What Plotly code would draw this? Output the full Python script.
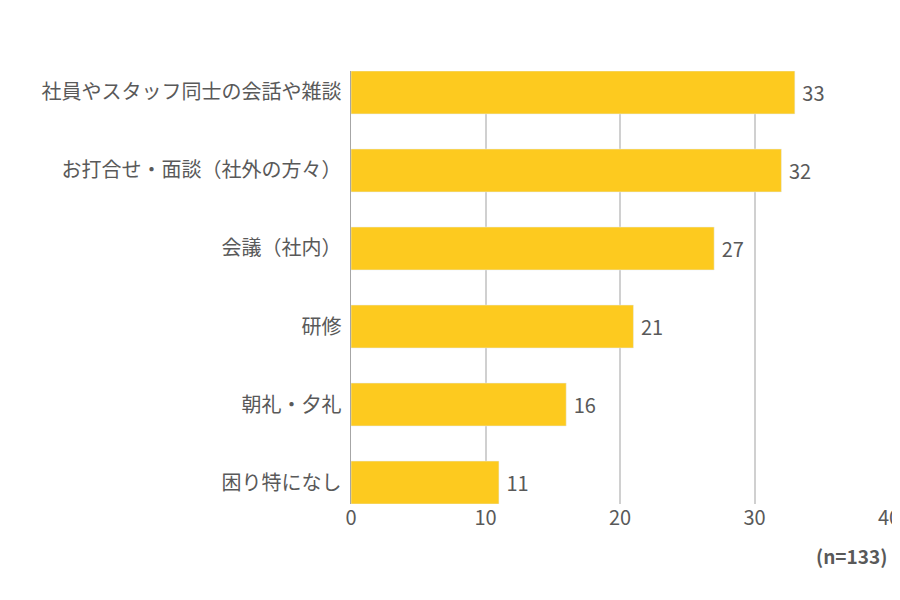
import plotly.graph_objects as go

categories = ["社員やスタッフ同士の会話や雑談", "お打合せ・面談（社外の方々）", "会議（社内）",
              "研修", "朝礼・夕礼", "困り特になし"]
values = [33, 32, 27, 21, 16, 11]
x_ticks = [0, 10, 20, 30, 40]

font = "Noto Sans CJK JP"
grey = "#595959"

fig = go.Figure(go.Bar(
    y=categories, x=values, orientation="h", width=0.55,
    marker_color="#FDCA1F",
    text=values, texttemplate=" %{text}", textposition="outside",
    textfont=dict(size=20, color=grey),
    cliponaxis=False,
))

fig.update_layout(
    width=900, height=600,
    margin=dict(l=343, r=19, t=63, b=104),
    plot_bgcolor="white", paper_bgcolor="white",
    font=dict(family=font, size=20, color=grey),
    showlegend=False,
    xaxis=dict(range=[0, 40], tickvals=x_ticks, showgrid=True, gridcolor="#D0D0D0",
               gridwidth=2, zeroline=False, tickfont=dict(size=20), ticks="", ticklen=0,
               automargin=False),
    yaxis=dict(autorange=False, range=[5.275, -0.275], type="category",
               showline=True, linecolor="#A6A6A6", linewidth=1, automargin=False,
               ticks="", ticksuffix=" ", tickfont=dict(size=20)),
)

fig.add_annotation(text="<b>(n=133)</b>", xref="paper", yref="paper", x=1.0, y=-0.155,
                   xanchor="right", showarrow=False, font=dict(size=19, color=grey))

fig.write_html("out.html")
